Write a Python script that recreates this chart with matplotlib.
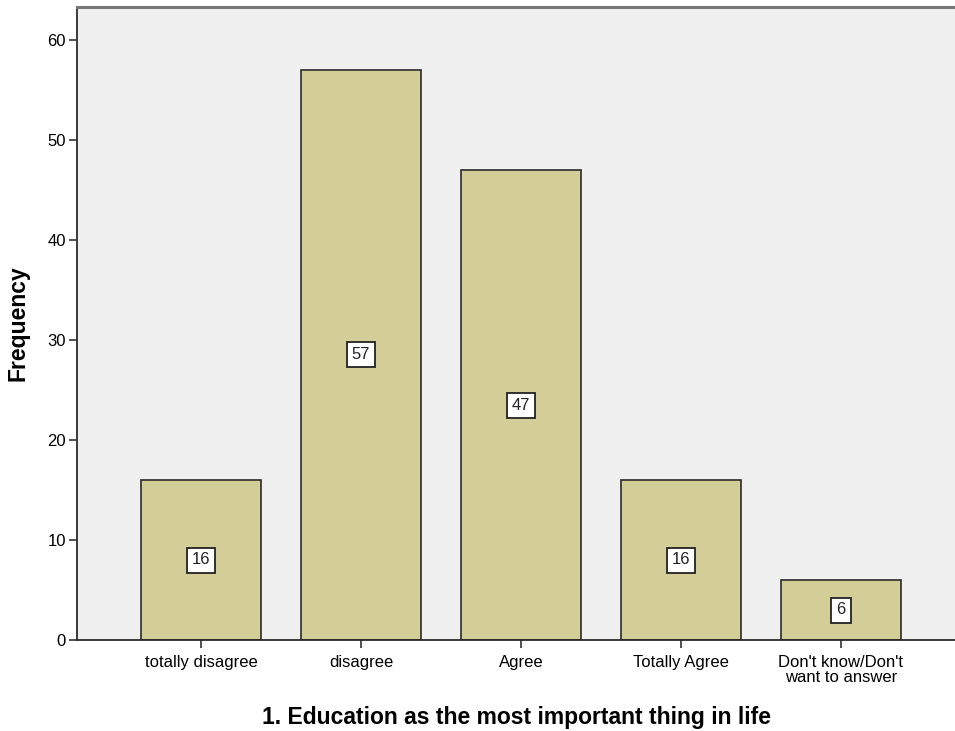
import matplotlib
matplotlib.use("Agg")
import matplotlib.pyplot as plt

categories = ["totally disagree", "disagree", "Agree", "Totally Agree",
              "Don't know/Don't\nwant to answer"]
frequencies = [16, 57, 47, 16, 6]
y_ticks = [0, 10, 20, 30, 40, 50, 60]

plt.rcParams["font.family"] = ["Liberation Sans", "DejaVu Sans"]

fig = plt.figure(figsize=(9.55, 7.31), dpi=100)
ax = fig.add_axes([77 / 955, 91 / 731, 1 - 77 / 955, (640 - 7) / 731])
ax.set_facecolor("#F0F0F0")

x = list(range(len(categories)))
bars = ax.bar(x, frequencies, width=0.75, color="#D3CE97",
              edgecolor="#2B2B2B", linewidth=1.2, zorder=2)

for xi, v in zip(x, frequencies):
    ax.text(xi, v / 2, str(v), ha="center", va="center", fontsize=12,
            color="#222222", zorder=3,
            bbox=dict(boxstyle="square,pad=0.3", facecolor="white",
                      edgecolor="#222222", linewidth=1.3))

ax.set_xlim(-0.775, 4.7125)
ax.set_ylim(0, 63.3)
ax.set_yticks(y_ticks)
ax.set_xticks(x)
ax.set_xticklabels(categories, fontsize=12, linespacing=0.95)
ax.tick_params(axis="y", labelsize=12, length=6, width=1.2, color="#333333", pad=2)
ax.tick_params(axis="x", length=6, width=1.2, color="#333333", pad=5)

for side in ["left", "bottom"]:
    ax.spines[side].set_color("#2B2B2B")
    ax.spines[side].set_linewidth(1.3)
ax.spines["top"].set_color("#777777")
ax.spines["top"].set_linewidth(2.2)
ax.spines["right"].set_visible(False)

ax.set_ylabel("Frequency", fontsize=16.5, fontweight="bold", labelpad=13)
ax.set_xlabel("1. Education as the most important thing in life",
              fontsize=16.5, fontweight="bold", labelpad=15)

fig.savefig("out.png", dpi=100)
